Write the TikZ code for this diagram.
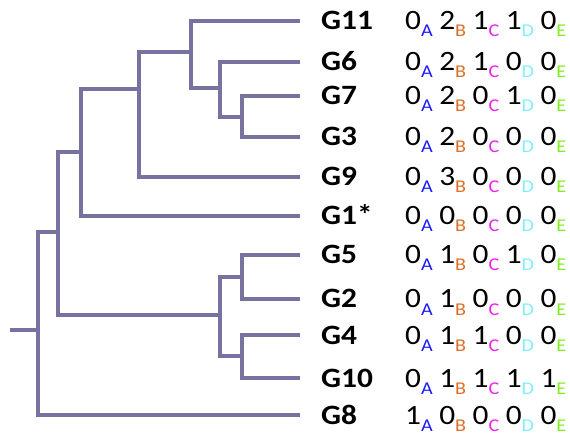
\documentclass[tikz,border=0pt]{standalone}
\usepackage{fontspec}
\setmainfont{Carlito}[FakeStretch=1.12]
\usepackage{tikz}
\usetikzlibrary{positioning}

\definecolor{branchc}{HTML}{7673A0}
\definecolor{cA}{HTML}{1A1AFF}
\definecolor{cB}{HTML}{D97027}
\definecolor{cC}{HTML}{F020F0}
\definecolor{cD}{HTML}{7FEFFF}
\definecolor{cE}{HTML}{80EE20}

% one state with its coloured site letter
\newcommand{\st}[3]{#1\raisebox{-7pt}{\fontsize{18}{18}\selectfont\color{#3}#2}\hspace{6.5pt}}
\newcommand{\sq}[5]{\st{#1}{A}{cA}\st{#2}{B}{cB}\st{#3}{C}{cC}\st{#4}{D}{cD}\st{#5}{E}{cE}}

\begin{document}
\begin{tikzpicture}[
    x=1pt, y=-1pt,
    branch/.style={draw=branchc, line width=3.6pt, line cap=rect},
    tag/.style={inner sep=0pt, anchor=base west, font=\fontsize{28}{28}\selectfont\bfseries},
    code/.style={inner sep=0pt, anchor=base west, font=\fontsize{28}{28}\selectfont}
]
\useasboundingbox (0,0) rectangle (570,438);

% leaves: tips, names and states
\foreach \n/\lab/\y/\a/\b/\c/\d/\e in {
    11/G11/21/0/2/1/1/0, 6/G6/62/0/2/1/0/0, 7/G7/96/0/2/0/1/0,
    3/G3/137/0/2/0/0/0, 9/G9/177/0/3/0/0/0, 1/G1*/216/0/0/0/0/0,
    5/G5/255/0/1/0/1/0, 2/G2/299/0/1/0/0/0, 4/G4/335/0/1/1/0/0,
    10/G10/378/0/1/1/1/1, 8/G8/415/1/0/0/0/0}
{
    \coordinate (t\n) at (298,\y);
    \node[tag] (g\n) at (321,\y+9) {\lab};
    \node[code] (s\n) at (405,\y+9) {\sq{\a}{\b}{\c}{\d}{\e}};
}

% internal nodes
\coordinate (a) at (242,117);
\coordinate (b) at (220,88);
\coordinate (c) at (191,52);
\coordinate (d) at (139,89);
\coordinate (e) at (81,152);
\coordinate (g) at (242,277);
\coordinate (h) at (242,356);
\coordinate (i) at (220,315);
\coordinate (f) at (58,232);
\coordinate (r) at (38,330);
\coordinate (r0) at (12,330);

% branches, child to parent
\foreach \ch/\pa in {t7/a, t3/a, t6/b, a/b, t11/c, b/c, c/d, t9/d,
    d/e, t1/e, t5/g, t2/g, t4/h, t10/h, g/i, h/i, e/f, i/f, f/r, t8/r}
    \draw[branch] (\ch) -| (\pa);
\draw[branch] (r0) -- (r);
\end{tikzpicture}
\end{document}
